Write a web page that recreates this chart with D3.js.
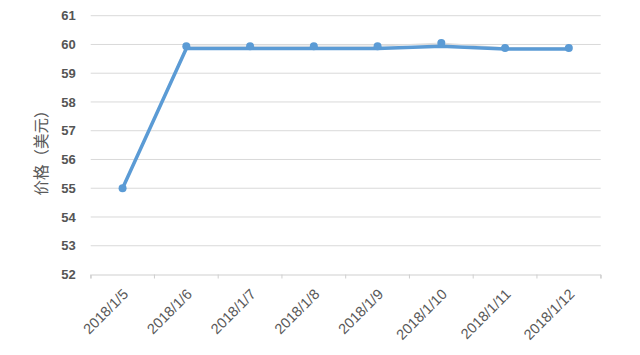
<!DOCTYPE html>
<html><head><meta charset="utf-8">
<script src="https://cdn.jsdelivr.net/npm/d3@7"></script>
<style>body{margin:0;background:#fff}svg{display:block}</style>
</head><body><svg id="c" width="640" height="355"></svg>
<script>
const categories = ["2018/1/5","2018/1/6","2018/1/7","2018/1/8","2018/1/9","2018/1/10","2018/1/11","2018/1/12"];
const markerSeries = [55.0, 59.94, 59.94, 59.94, 59.94, 60.05, 59.88, 59.88];
const lineSeries = [55.0, 59.86, 59.86, 59.86, 59.86, 59.94, 59.84, 59.84];
const yTicks = [52,53,54,55,56,57,58,59,60,61];
const yTitle = "价格（美元）";

const svg = d3.select("#c");
const L = 90.7, R = 600.7, T = 15.7, B = 274.5;
const x = d3.scaleBand().domain(categories).range([L, R]);
const y = d3.scaleLinear().domain([52, 61]).range([B, T]);
const font = "'Liberation Sans', Arial, sans-serif";

// gridlines
svg.append("g").selectAll("line").data(yTicks.slice(1)).join("line")
  .attr("x1", L).attr("x2", R).attr("y1", d => y(d)).attr("y2", d => y(d))
  .attr("stroke", "#d9d9d9").attr("stroke-width", 1);

// y axis labels
const yAxis = svg.append("g").attr("transform", `translate(${L},0)`)
  .call(d3.axisLeft(y).tickValues(yTicks).tickSize(0).tickPadding(15));
yAxis.select(".domain").remove();
yAxis.selectAll("text").attr("font-family", font).attr("font-size", 13)
  .attr("font-weight", "bold").attr("fill", "#555");

// x axis
const xAxis = svg.append("g").attr("transform", `translate(0,${B})`)
  .call(d3.axisBottom(x).tickSizeOuter(0).tickSize(4));
xAxis.select(".domain").attr("stroke", "#cfcfcf");
xAxis.selectAll(".tick line").remove();
xAxis.append("g").selectAll("line").data(d3.range(categories.length + 1)).join("line")
  .attr("x1", i => L + i * x.bandwidth()).attr("x2", i => L + i * x.bandwidth())
  .attr("y1", 0).attr("y2", 4).attr("stroke", "#cfcfcf");
xAxis.selectAll(".tick text")
  .attr("font-family", font).attr("font-size", 14.5).attr("fill", "#595959")
  .attr("text-anchor", "end").attr("dy", "0.35em").attr("y", 0)
  .attr("transform", "translate(3,17) rotate(-45)");

// y title
svg.append("text").attr("transform", `translate(47,149) rotate(-90)`)
  .attr("text-anchor", "middle").attr("font-family", "'Noto Sans CJK SC', sans-serif")
  .attr("font-size", 15.5).attr("fill", "#595959").text(yTitle);

const cx = d => x(d) + x.bandwidth() / 2;
// thin series
svg.append("path").datum(markerSeries)
  .attr("d", d3.line().x((d, i) => cx(categories[i])).y(d => y(d)))
  .attr("fill", "none").attr("stroke", "#dedede").attr("stroke-width", 1.2);
// thick line
svg.append("path").datum(lineSeries)
  .attr("d", d3.line().x((d, i) => cx(categories[i])).y(d => y(d)))
  .attr("fill", "none").attr("stroke", "#5b9bd5").attr("stroke-width", 3.5)
  .attr("stroke-linejoin", "round");
// markers
svg.append("g").selectAll("circle").data(markerSeries).join("circle")
  .attr("cx", (d, i) => cx(categories[i])).attr("cy", d => y(d)).attr("r", 4)
  .attr("fill", "#5b9bd5");
</script></body></html>
